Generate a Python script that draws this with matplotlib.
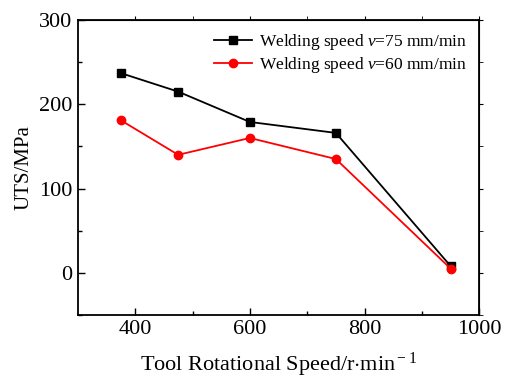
import matplotlib.pyplot as plt

# data
speed = [375, 475, 600, 750, 950]
uts_v75 = [237, 215, 179, 166, 8]
uts_v60 = [181, 140, 160, 135, 5]

xticks = [400, 600, 800, 1000]
yticks = [0, 100, 200, 300]

plt.rcParams['font.family'] = ['Liberation Serif', 'DejaVu Serif']
plt.rcParams['mathtext.fontset'] = 'custom'
plt.rcParams['mathtext.it'] = 'Liberation Serif:italic'
plt.rcParams['mathtext.rm'] = 'Liberation Serif'

fig = plt.figure(figsize=(5.12, 3.78), dpi=100)
ax = fig.add_axes([0.152, 0.167, 0.784, 0.780])

ax.plot(speed, uts_v75, color='black', marker='s', markersize=5.5, linewidth=1.3,
        label='Welding speed $\\it{v}$=75 mm/min')
ax.plot(speed, uts_v60, color='red', marker='o', markersize=6, linewidth=1.3,
        label='Welding speed $\\it{v}$=60 mm/min')

ax.set_xlim(300, 1000)
ax.set_ylim(-50, 300)
ax.set_xticks(xticks)
ax.set_yticks(yticks)
ax.set_xticks([500, 700, 900], minor=True)
ax.set_yticks([-50, 50, 150, 250], minor=True)
ax.tick_params(which='major', direction='in', length=5, width=1, labelsize=16, pad=4)
ax.tick_params(which='minor', direction='in', length=3, width=1)
for s in ax.spines.values():
    s.set_linewidth(1.3)

# outward ticks on the opposite sides, no labels
top = ax.secondary_xaxis('top')
top.set_xticks(xticks)
top.set_xticks([500, 700, 900], minor=True)
top.tick_params(which='both', direction='out', length=3, labeltop=False)
right = ax.secondary_yaxis('right')
right.set_yticks(yticks)
right.set_yticks([-50, 50, 150, 250], minor=True)
right.tick_params(which='both', direction='out', length=3, labelright=False)

ax.set_xlabel('Tool Rotational Speed/r$\\cdot$min$^{\\rm -1}$', fontsize=16, labelpad=8)
ax.set_ylabel('UTS/MPa', fontsize=15, labelpad=4)

ax.legend(loc='upper right', frameon=False, fontsize=12.5, handlelength=2.2,
          borderaxespad=0.3, labelspacing=0.15, handletextpad=0.4)

fig.savefig('out.png', dpi=100)
